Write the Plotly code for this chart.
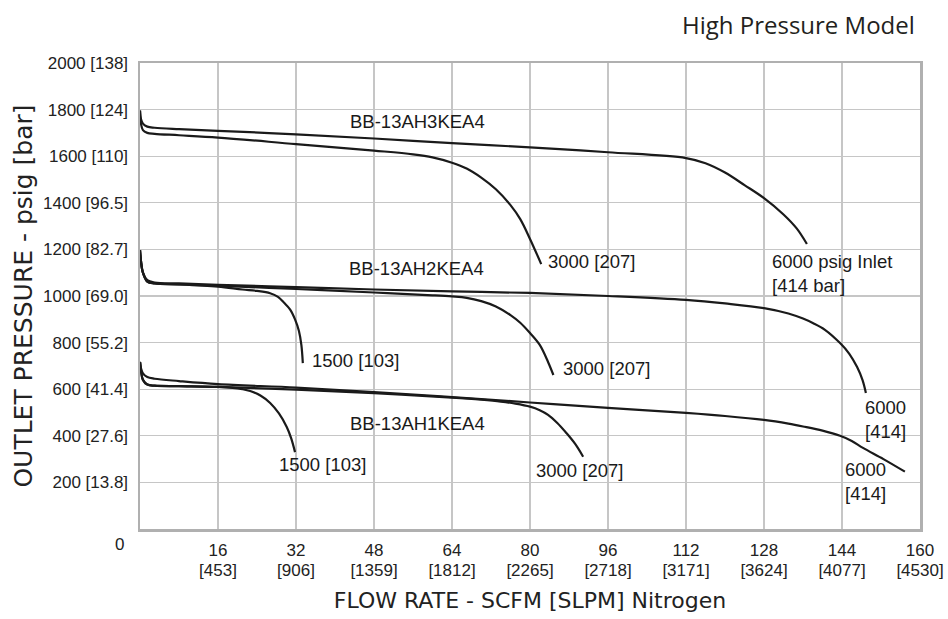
import plotly.graph_objects as go

# ---- data (flow in SCFM, outlet pressure in psig) ----
# BB-13AH3KEA4 group
h3_6000_x = [0, 0.2, 0.6, 1.5, 3, 8, 16, 32, 48, 64, 80, 96, 112, 116, 120, 124, 128, 132, 134.7, 136.8]
h3_6000_y = [1796, 1760, 1740, 1727, 1722, 1716, 1709, 1694, 1676, 1656, 1638, 1617, 1592, 1570, 1530, 1476, 1420, 1350, 1290, 1223]
h3_3000_x = [0, 0.2, 0.6, 1.5, 3, 8, 16, 32, 48, 56, 60, 64, 67, 70, 73, 76, 78, 80, 82.3]
h3_3000_y = [1796, 1740, 1712, 1700, 1696, 1690, 1680, 1652, 1624, 1608, 1595, 1572, 1547, 1508, 1458, 1390, 1330, 1245, 1137]

# BB-13AH2KEA4 group
h2_6000_x = [0, 0.2, 0.6, 1.5, 3, 8, 16, 32, 48, 64, 80, 96, 112, 120, 128, 133, 136, 138, 140.5, 143.6, 145.5, 147.1, 148.2, 148.9]
h2_6000_y = [1197, 1150, 1100, 1068, 1058, 1054, 1048, 1038, 1028, 1020, 1013, 1000, 983, 968, 948, 925, 903, 884, 855, 798, 752, 695, 640, 584]
h2_3000_x = [0, 0.2, 0.6, 1.5, 3, 8, 16, 32, 48, 60, 64, 67, 70, 73, 76, 78, 80, 82, 83.7, 84.8]
h2_3000_y = [1197, 1150, 1100, 1062, 1054, 1050, 1044, 1030, 1015, 1003, 998, 992, 978, 955, 918, 885, 841, 790, 717, 661]
h2_1500_x = [0, 0.2, 0.6, 1.5, 3, 8, 16, 21, 24, 26.7, 28.3, 29.5, 30.8, 31.8, 32.6, 33.1, 33.4]
h2_1500_y = [1197, 1150, 1100, 1062, 1054, 1050, 1040, 1028, 1022, 1012, 996, 972, 942, 900, 850, 790, 712]

# BB-13AH1KEA4 group
h1_6000_x = [0, 0.2, 0.6, 1.5, 3, 8, 16, 32, 48, 64, 80, 96, 112, 120, 128, 133, 136, 140, 143.6, 146, 148.3, 152.5, 156.9]
h1_6000_y = [717, 690, 668, 652, 645, 635, 622, 607, 588, 566, 543, 520, 498, 485, 468, 452, 440, 422, 400, 378, 348, 300, 246]
h1_3000_x = [0, 0.2, 0.6, 1.5, 3, 8, 16, 32, 48, 64, 70, 74, 77, 80, 82, 83.7, 85.6, 87.5, 89.3, 90.9]
h1_3000_y = [717, 680, 640, 620, 615, 613, 610, 598, 583, 564, 555, 547, 538, 525, 510, 490, 455, 411, 364, 310]
h1_1500_x = [0, 0.2, 0.6, 1.5, 3, 8, 16, 19, 21, 22.6, 24.7, 26.7, 28.5, 30.1, 31, 31.8]
h1_1500_y = [717, 680, 640, 620, 615, 613, 610, 606, 600, 592, 573, 541, 496, 438, 390, 330]

x_ticks = [16, 32, 48, 64, 80, 96, 112, 128, 144, 160]
x_tick_slpm = ["453", "906", "1359", "1812", "2265", "2718", "3171", "3624", "4077", "4530"]
y_ticks = [200, 400, 600, 800, 1000, 1200, 1400, 1600, 1800, 2000]
y_tick_bar = ["13.8", "27.6", "41.4", "55.2", "69.0", "82.7", "96.5", "110", "124", "138"]

series = [
    (h3_6000_x, h3_6000_y), (h3_3000_x, h3_3000_y),
    (h2_6000_x, h2_6000_y), (h2_3000_x, h2_3000_y), (h2_1500_x, h2_1500_y),
    (h1_6000_x, h1_6000_y), (h1_3000_x, h1_3000_y), (h1_1500_x, h1_1500_y),
]

fig = go.Figure()
for xs, ys in series:
    fig.add_trace(go.Scatter(
        x=xs, y=ys, mode="lines",
        line=dict(color="#1a1a1a", width=2.2, shape="spline", smoothing=1.0),
        showlegend=False, hoverinfo="skip",
    ))
# carrier trace for the secondary (SLPM) tick-label axis
fig.add_trace(go.Scatter(x=[x_ticks[0], x_ticks[-1]], y=[None, None], xaxis="x2",
                         mode="lines", showlegend=False, hoverinfo="skip"))

TXT = "Liberation Sans, Arial, sans-serif"
ann_font = dict(family=TXT, size=18.5, color="#1a1a1a")

labels = [
    ("BB-13AH3KEA4", 57, 1751, "center"),
    ("BB-13AH2KEA4", 56.8, 1116, "center"),
    ("BB-13AH1KEA4", 57, 451, "center"),
    ("3000 [207]", 83.3, 1146, "left"),
    ("6000 psig Inlet<br>[414 bar]", 129.2, 1095, "left"),
    ("1500 [103]", 34.9, 725, "left"),
    ("3000 [207]", 86.4, 691, "left"),
    ("6000<br>[414]", 148.3, 468, "left"),
    ("1500 [103]", 28.1, 275, "left"),
    ("3000 [207]", 80.8, 249, "left"),
    ("6000<br>[414]", 144.2, 202, "left"),
]
annotations = []
for text, ax, ay, anchor in labels:
    annotations.append(dict(
        text=text, x=ax, y=ay, xref="x", yref="y", showarrow=False,
        xanchor=anchor, yanchor="middle", align="left", font=ann_font,
    ))

# origin label
annotations.append(dict(
    text="0", x=0, y=0, xref="paper", yref="paper", showarrow=False,
    xanchor="center", yanchor="middle", xshift=-21, yshift=-15,
    font=dict(family=TXT, size=17, color="#222222"),
))
# top-right title
annotations.append(dict(
    text="High Pressure Model", x=1, y=1, xref="paper", yref="paper",
    showarrow=False, xanchor="right", yanchor="middle", xshift=-3, yshift=39,
    font=dict(family="Open Sans, Noto Sans, sans-serif", size=24, color="#231f20"),
))

fig.update_layout(
    width=948, height=619,
    margin=dict(l=140, r=28, t=63, b=90),
    paper_bgcolor="white", plot_bgcolor="white",
    annotations=annotations,
    showlegend=False,
    xaxis=dict(
        range=[0, 160], automargin=False,
        tickmode="array", tickvals=x_ticks, ticktext=[str(v) for v in x_ticks],
        tickfont=dict(family=TXT, size=17, color="#222222"),
        ticks="outside", ticklen=4, tickcolor="rgba(0,0,0,0)",
        showgrid=True, gridcolor="#c6c6c6", gridwidth=1.2,
        zeroline=False, showline=True, mirror=True, linecolor="#b0b0b0", linewidth=2.5,
    ),
    xaxis2=dict(
        range=[0, 160], automargin=False, overlaying="x", side="bottom", anchor="y",
        tickmode="array", tickvals=x_ticks, ticktext=[f"[{s}]" for s in x_tick_slpm],
        tickfont=dict(family=TXT, size=17, color="#222222"),
        ticks="outside", ticklen=26, tickcolor="rgba(0,0,0,0)",
        showgrid=False, zeroline=False, showline=False,
        title=dict(text="FLOW RATE - SCFM [SLPM] Nitrogen",
                   font=dict(family="DejaVu Sans, sans-serif", size=22, color="#222222"),
                   standoff=13),
    ),
    yaxis=dict(
        range=[0, 2000], automargin=False,
        tickmode="array", tickvals=y_ticks,
        ticktext=[f"{v} [{s}]" for v, s in zip(y_ticks, y_tick_bar)],
        tickfont=dict(family=TXT, size=17, color="#222222"),
        ticks="outside", ticklen=6, tickcolor="rgba(0,0,0,0)",
        showgrid=True, gridcolor="#c6c6c6", gridwidth=1.2,
        zeroline=False, showline=True, mirror=True, linecolor="#b0b0b0", linewidth=2.5,
        title=dict(text="OUTLET PRESSURE - psig [bar]",
                   font=dict(family="DejaVu Sans, sans-serif", size=25, color="#222222"),
                   standoff=4),
    ),
)

fig.write_html("out.html",
               config={"displayModeBar": False, "staticPlot": True},
               post_script="document.body.style.margin='0';document.body.style.overflow='hidden';")
